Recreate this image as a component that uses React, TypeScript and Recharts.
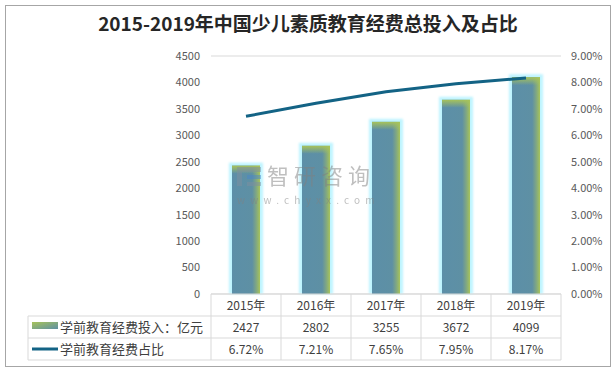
import React from 'react';
import { ComposedChart, Bar, Line, XAxis, YAxis, CartesianGrid } from 'recharts';

const years = ['2015年', '2016年', '2017年', '2018年', '2019年'];
const investment = [2427, 2802, 3255, 3672, 4099];
const share = [6.72, 7.21, 7.65, 7.95, 8.17];
const leftTicks = [0, 500, 1000, 1500, 2000, 2500, 3000, 3500, 4000, 4500];
const rightTicks = [0, 1, 2, 3, 4, 5, 6, 7, 8, 9];
const seriesNames = ['学前教育经费投入：亿元', '学前教育经费占比'];
const title = '2015-2019年中国少儿素质教育经费总投入及占比';

const data = years.map((y, i) => ({ year: y, inv: investment[i], pct: share[i] }));

const FONT = '"Noto Sans CJK SC", "Noto Sans", sans-serif';
const BORDER = '#D9D9D9';
const TXT = '#404040';
const LINE_C = '#136385';

const BarShape = (props: any) => {
  const { x, y, width, height } = props;
  if (!height || height <= 0) return null;
  return (
    <g>
      <rect x={x - 3} y={y - 3} width={width + 6} height={height + 3} fill="#B8F3FF" opacity={0.9} filter="url(#glow)" />
      <rect x={x} y={y} width={width} height={height} fill="url(#barH)" />
      <rect x={x} y={y} width={width} height={8} fill="url(#barTop)" />
    </g>
  );
};

const TableTick = (props: any) => {
  const { x, y, payload } = props;
  const i = payload.index;
  const half = 35;
  const l = x - half;
  const r = x + half;
  return (
    <g fontFamily={FONT} fontSize={12} fill={TXT}>
      {i === 0 && (
        <g>
          <line x1={l} y1={y} x2={l} y2={y + 66} stroke={BORDER} />
          <line x1={28} y1={y + 22} x2={l} y2={y + 22} stroke={BORDER} />
          <line x1={28} y1={y + 44} x2={l} y2={y + 44} stroke={BORDER} />
          <line x1={28} y1={y + 66} x2={l} y2={y + 66} stroke={BORDER} />
          <line x1={28} y1={y + 22} x2={28} y2={y + 66} stroke={BORDER} />
          <rect x={32} y={y + 28} width={26} height={7} fill="url(#legendGrad)" />
          <text x={60} y={y + 38} fontSize={13} fill={TXT}>{seriesNames[0]}</text>
          <line x1={32} y1={y + 55} x2={58} y2={y + 55} stroke={LINE_C} strokeWidth={3} />
          <text x={60} y={y + 60} fontSize={13} fill={TXT}>{seriesNames[1]}</text>
        </g>
      )}
      <line x1={r} y1={y} x2={r} y2={y + 66} stroke={BORDER} />
      <line x1={l} y1={y + 22} x2={r} y2={y + 22} stroke={BORDER} />
      <line x1={l} y1={y + 44} x2={r} y2={y + 44} stroke={BORDER} />
      <line x1={l} y1={y + 66} x2={r} y2={y + 66} stroke={BORDER} />
      <text x={x} y={y + 16} textAnchor="middle">{years[i]}</text>
      <text x={x} y={y + 38} textAnchor="middle">{investment[i]}</text>
      <text x={x} y={y + 60} textAnchor="middle">{share[i].toFixed(2) + '%'}</text>
    </g>
  );
};

export default function App() {
  return (
    <div style={{ position: 'absolute', left: 0, top: 0, width: 615, height: 370, background: '#fff' }}>
      <svg width={615} height={370} style={{ position: 'absolute', left: 0, top: 0 }}>
        <rect x={5.5} y={5.5} width={605} height={361} fill="#fff" stroke="#A6A6A6" />
        <text x={308} y={31} textAnchor="middle" fontFamily={FONT} fontWeight="bold" fontSize={19} fill="#262626">{title}</text>
      </svg>
      <div style={{ position: 'absolute', left: 0, top: 0 }}>
        <ComposedChart width={615} height={370} data={data} margin={{ top: 56, right: 0, bottom: 0, left: 0 }}>
          <defs>
            <linearGradient id="barH" x1="0" y1="0" x2="1" y2="0">
              <stop offset="0" stopColor="#5C8FA8" />
              <stop offset="0.72" stopColor="#5E90A4" />
              <stop offset="0.86" stopColor="#7FA684" />
              <stop offset="1" stopColor="#A7C35A" />
            </linearGradient>
            <linearGradient id="barTop" x1="0" y1="0" x2="0" y2="1">
              <stop offset="0" stopColor="#A7C35A" stopOpacity={1} />
              <stop offset="1" stopColor="#A7C35A" stopOpacity={0} />
            </linearGradient>
            <linearGradient id="legendGrad" x1="0" y1="0" x2="1" y2="1">
              <stop offset="0" stopColor="#A7C35A" />
              <stop offset="1" stopColor="#5E90A4" />
            </linearGradient>
            <filter id="glow" x="-50%" y="-10%" width="200%" height="120%">
              <feGaussianBlur stdDeviation="1.2" />
            </filter>
          </defs>
          <CartesianGrid vertical={false} stroke={BORDER} />
          <XAxis
            dataKey="year"
            height={76}
            tickSize={0}
            tickMargin={0}
            axisLine={{ stroke: BORDER }}
            tick={<TableTick />}
            interval={0}
          />
          <YAxis
            yAxisId="left"
            width={211}
            domain={[0, 4500]}
            ticks={leftTicks}
            axisLine={false}
            tickLine={false}
            tickSize={0}
            tickMargin={11}
            tick={{ fill: '#595959', fontSize: 11, fontFamily: FONT }}
          />
          <YAxis
            yAxisId="right"
            orientation="right"
            width={54}
            domain={[0, 9]}
            ticks={rightTicks}
            axisLine={false}
            tickLine={false}
            tickSize={0}
            tickMargin={10}
            tickFormatter={(v: number) => v.toFixed(2) + '%'}
            tick={{ fill: '#595959', fontSize: 11, fontFamily: FONT, textAnchor: 'start' }}
          />
          <Bar yAxisId="left" dataKey="inv" barSize={28} shape={<BarShape />} isAnimationActive={false} />
          <Line yAxisId="right" dataKey="pct" stroke={LINE_C} strokeWidth={3} dot={false} activeDot={false} isAnimationActive={false} />
        </ComposedChart>
      </div>
      <svg width={615} height={370} style={{ position: 'absolute', left: 0, top: 0, pointerEvents: 'none' }}>
        <g opacity={0.5}>
          <rect x={237} y={167} width={24} height={5} fill="#7E8FA0" />
          <rect x={237} y={167} width={5} height={19} fill="#7E8FA0" />
          <rect x={247} y={175} width={14} height={4} fill="#4C88C8" />
          <rect x={247} y={182} width={14} height={4} fill="#7E8FA0" />
          <text x={267} y={184} fontFamily={FONT} fontSize={22} fill="#808080" letterSpacing={5}>智研咨询</text>
          <text x={237} y={204} fontFamily={FONT} fontSize={10} fill="#808080" letterSpacing={5.2}>www.chyxx.com</text>
        </g>
      </svg>
    </div>
  );
}
